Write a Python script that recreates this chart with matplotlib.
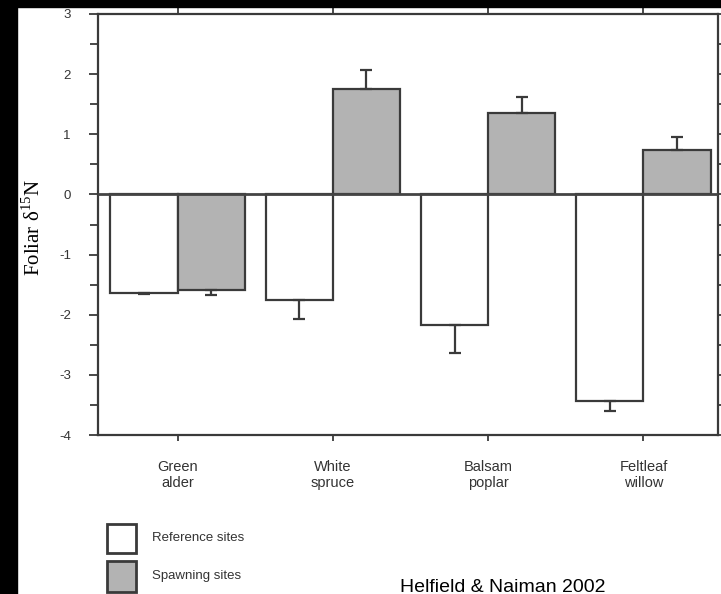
import matplotlib
matplotlib.use('Agg')
import matplotlib.pyplot as plt
from matplotlib.patches import Rectangle
import numpy as np

species = ['Green\nalder', 'White\nspruce', 'Balsam\npoplar', 'Feltleaf\nwillow']
reference = [-1.64, -1.75, -2.17, -3.44]
reference_se = [0.02, 0.32, 0.47, 0.16]
spawning = [-1.59, 1.76, 1.35, 0.74]
spawning_se = [0.08, 0.31, 0.27, 0.22]
legend_labels = ['Reference sites', 'Spawning sites']
source = 'Helfield & Naiman 2002'

plt.rcParams['axes.unicode_minus'] = False
plt.rcParams['mathtext.fontset'] = 'custom'
plt.rcParams['mathtext.rm'] = 'Liberation Serif'

edge = '#3a3a3a'
grey = '#b3b3b3'
txt = '#333333'
sans = ['Liberation Sans', 'DejaVu Sans']

fig = plt.figure(figsize=(7.21, 5.94), dpi=100)
ax = fig.add_axes([98/721, 1 - 435/594, 620/721, 421/594])

x = np.arange(len(species))
w = 0.432
ax.bar(x - w/2, reference, w, color='white', edgecolor=edge, linewidth=1.6, zorder=2)
ax.bar(x + w/2, spawning, w, color=grey, edgecolor=edge, linewidth=1.6, zorder=2)

# one-sided error bars pointing away from zero
def one_sided(vals, se):
    lo = [s if v < 0 else 0 for v, s in zip(vals, se)]
    hi = [s if v >= 0 else 0 for v, s in zip(vals, se)]
    return [lo, hi]

ax.errorbar(x - w/2, reference, yerr=one_sided(reference, reference_se), fmt='none',
            ecolor=edge, elinewidth=1.6, capsize=4, capthick=1.6, zorder=3)
ax.errorbar(x + w/2, spawning, yerr=one_sided(spawning, spawning_se), fmt='none',
            ecolor=edge, elinewidth=1.6, capsize=4, capthick=1.6, zorder=3)

ax.axhline(0, color='#444444', lw=2, zorder=4)

ax.set_xlim(-0.512, 3.48)
ax.set_ylim(-4, 3)
ax.set_yticks(range(-4, 4))
ax.set_yticks(np.arange(-4, 3.01, 0.5), minor=True)
ax.set_xticks(x)
ax.set_xticklabels(species, fontsize=10.5, color=txt, linespacing=1.2, family=sans)
for lab in ax.get_yticklabels():
    lab.set_family(sans)
ax.tick_params(axis='y', which='major', direction='out', length=6.5, width=1.3,
               color=edge, labelsize=9.5, labelcolor=txt, pad=13, right=True)
ax.tick_params(axis='y', which='minor', direction='out', length=6, width=1.3,
               color=edge, right=True)
ax.tick_params(axis='x', direction='out', length=4, width=1.3, color=edge,
               pad=14, top=True)
for s in ax.spines.values():
    s.set_color(edge)
    s.set_linewidth(1.6)

fig.text(34/721, 1 - 228/594, r'Foliar δ$^{15}$N', rotation=90, ha='center',
         va='center', fontsize=15, family=['Liberation Serif', 'DejaVu Serif'])

# legend boxes drawn by hand below the axes
fig.add_artist(Rectangle((107/721, 1 - 553/594), 29/721, 29/594, transform=fig.transFigure,
                         facecolor='white', edgecolor=edge, lw=2))
fig.add_artist(Rectangle((107/721, 1 - 592/594), 29/721, 31/594, transform=fig.transFigure,
                         facecolor=grey, edgecolor=edge, lw=2))
fig.text(152/721, 1 - 538/594, legend_labels[0], va='center', fontsize=9.5, color=txt,
         family=sans)
fig.text(152/721, 1 - 576/594, legend_labels[1], va='center', fontsize=9.5, color=txt,
         family=sans)
fig.text(400/721, 1 - 587/594, source, va='center', fontsize=14, color='black',
         family=sans)

# black borders on the left and top
fig.add_artist(Rectangle((0, 0), 17/721, 1, transform=fig.transFigure, color='black'))
fig.add_artist(Rectangle((0, 1 - 7/594), 1, 7/594, transform=fig.transFigure, color='black'))

fig.savefig('out.png', dpi=100)
